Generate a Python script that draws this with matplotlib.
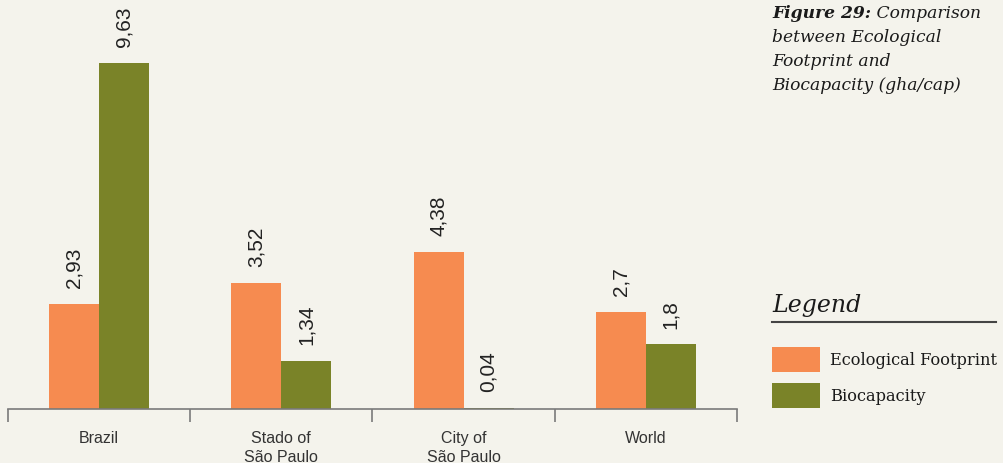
import matplotlib
matplotlib.use("Agg")
import matplotlib.pyplot as plt
from matplotlib.patches import Rectangle
from matplotlib.lines import Line2D
import numpy as np

categories = ["Brazil", "Stado of\nSão Paulo", "City of\nSão Paulo", "World"]
footprint = [2.93, 3.52, 4.38, 2.7]
biocapacity = [9.63, 1.34, 0.04, 1.8]
footprint_labels = ["2,93", "3,52", "4,38", "2,7"]
biocapacity_labels = ["9,63", "1,34", "0,04", "1,8"]
series_names = ["Ecological Footprint", "Biocapacity"]

BG = "#f4f3ec"
ORANGE = "#f68b50"
GREEN = "#7a8328"
W, H = 1004, 464

fig = plt.figure(figsize=(W / 100, H / 100), dpi=100, facecolor=BG)

def fx(px):
    return px / W

def fy(py):
    return 1 - py / H

ax = fig.add_axes([fx(8), fy(410), fx(737) - fx(8), (400) / H])
ax.set_facecolor(BG)
ax.patch.set_alpha(0)

x = np.arange(len(categories))
bw = 50 / 182.25
ax.bar(x - bw / 2, footprint, bw, color=ORANGE, linewidth=0)
ax.bar(x + bw / 2, biocapacity, bw, color=GREEN, linewidth=0)

ax.set_xlim(-0.5, len(categories) - 0.5)
ax.set_ylim(0, 400 / 35.93)

for xi, v, lab in zip(x - bw / 2, footprint, footprint_labels):
    ax.annotate(lab, (xi, v), xytext=(0, 12), textcoords="offset points",
                rotation=90, ha="center", va="bottom", fontsize=15,
                family="Liberation Sans", color="#222222")
for xi, v, lab in zip(x + bw / 2, biocapacity, biocapacity_labels):
    ax.annotate(lab, (xi, v), xytext=(0, 12), textcoords="offset points",
                rotation=90, ha="center", va="bottom", fontsize=15,
                family="Liberation Sans", color="#222222")

for s in ["top", "right", "left"]:
    ax.spines[s].set_visible(False)
ax.spines["bottom"].set_color("#7a7a7a")
ax.spines["bottom"].set_linewidth(1.2)
ax.set_yticks([])
ax.set_xticks(x)
ax.set_xticklabels(categories, fontsize=11.5, family="Liberation Sans",
                   color="#333333", linespacing=1.35)
ax.tick_params(axis="x", which="major", length=0, pad=15)
ax.set_xticks(np.arange(-0.5, len(categories), 1.0), minor=True)
ax.tick_params(axis="x", which="minor", length=9.5, width=1.2,
               color="#7a7a7a", direction="out")

serif = ["DejaVu Serif"]
TS = 12.3
title_lines = [" Comparison", "between Ecological", "Footprint and",
               "Biocapacity (gha/cap)"]
t0 = fig.text(fx(772), fy(18), "Figure 29:", fontsize=TS, family=serif,
              style="italic", weight="bold", color="#1a1a1a", va="baseline")
fig.canvas.draw()
bb = t0.get_window_extent()
fig.text(bb.x1 / W, fy(18), title_lines[0], fontsize=TS, family=serif,
         style="italic", color="#1a1a1a", va="baseline")
for i, line in enumerate(title_lines[1:]):
    fig.text(fx(772), fy(18 + 24 * (i + 1)), line, fontsize=TS,
             family=serif, style="italic", color="#1a1a1a", va="baseline")

# Legend
fig.text(fx(772), fy(312), "Legend", fontsize=17, family=serif,
         style="italic", color="#1a1a1a", va="baseline")
fig.add_artist(Line2D([fx(772), fx(996)], [fy(323), fy(323)],
                      transform=fig.transFigure, color="#444444", lw=1.5))
for (top, col, name) in [(348, ORANGE, series_names[0]), (384, GREEN, series_names[1])]:
    fig.add_artist(Rectangle((fx(772), fy(top + 25)), fx(820) - fx(772), 25 / H,
                             transform=fig.transFigure, facecolor=col,
                             edgecolor="none"))
    fig.text(fx(830), fy(top + 12.5), name, fontsize=11.7, family=serif,
             color="#1a1a1a", va="center")

fig.savefig("out.png", dpi=100, facecolor=BG)
